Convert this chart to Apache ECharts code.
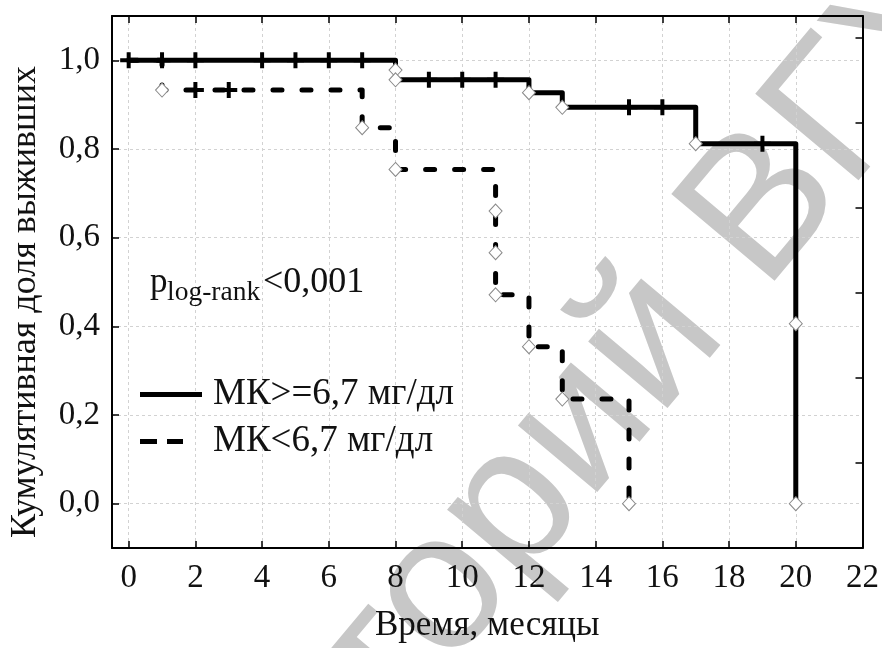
<!DOCTYPE html>
<html><head><meta charset="utf-8">
<script src="https://cdn.jsdelivr.net/npm/echarts@6/dist/echarts.min.js"></script>
<style>html,body{margin:0;padding:0;background:#fff}#c{width:882px;height:648px}</style>
</head><body><div id="c"></div>
<script>
// ---- data ----
const xTicks = [0, 2, 4, 6, 8, 10, 12, 14, 16, 18, 20, 22];
const yTicks = [0, 0.2, 0.4, 0.6, 0.8, 1.0];
const seriesNames = ['МК>=6,7 мг/дл', 'МК<6,7 мг/дл'];
// Kaplan–Meier step curves (time, survival)
const highCurve = [[0, 1], [8, 0.956], [12, 0.927], [13, 0.894], [17, 0.812], [20, 0]];
const highEvents = [[8, 0.978], [8, 0.956], [12, 0.927], [13, 0.894], [17, 0.812], [20, 0.406], [20, 0]];
const highCensored = [[0, 1], [1, 1], [2, 1], [4, 1], [5, 1], [6, 1], [7, 1], [9, 0.956], [10, 0.956], [11, 0.956], [15, 0.894], [16, 0.894], [19, 0.812]];
const lowCurve = [[0, 1], [1, 0.933], [7, 0.848], [8, 0.754], [11, 0.471], [12, 0.354], [13, 0.236], [15, 0]];
const lowEvents = [[1, 0.933], [7, 0.848], [8, 0.754], [11, 0.660], [11, 0.566], [11, 0.471], [12, 0.354], [13, 0.236], [15, 0]];
const lowCensored = [[2, 0.933], [3, 0.933]];
const xName = 'Время, месяцы';
const yName = 'Кумулятивная доля выживших';
const pParts = ['p', 'log-rank', '<0,001'];
const watermark = 'Репозиторий ВГУ';

// ---- chart ----
const SERIF = '"Liberation Serif", "Times New Roman", serif';
const TXT = '#111';
const plusPath = 'path://M6.5,0H10.5V6H17V10H10.5V16H6.5V10H0V6H6.5Z';
const chart = echarts.init(document.getElementById('c'), null, {renderer: 'canvas'});
const gridLine = {show: true, lineStyle: {color: '#d2d2d2', width: 1, type: [3, 3]}};
const axisLine = {show: true, onZero: false, lineStyle: {color: '#000', width: 2}};
const tick = (vals) => ({show: true, inside: true, length: 7, customValues: vals, lineStyle: {color: '#000', width: 1.5}});

chart.setOption({
  backgroundColor: '#fff',
  animation: false,
  grid: {left: 109.5, right: 18.5, top: 16, bottom: 96.5, containLabel: false},
  xAxis: [{
    type: 'value', min: -0.5, max: 22, position: 'bottom',
    axisLine, axisTick: tick(xTicks), splitLine: gridLine,
    axisLabel: {customValues: xTicks, margin: 14, color: TXT, fontFamily: SERIF, fontSize: 33},
    name: xName, nameLocation: 'middle', nameGap: 60,
    nameTextStyle: {color: TXT, fontFamily: SERIF, fontSize: 35}
  }, {
    type: 'value', min: -0.5, max: 22, position: 'top',
    axisLine, axisTick: tick(xTicks), splitLine: {show: false}, axisLabel: {show: false}
  }],
  yAxis: [{
    type: 'value', min: -0.1, max: 1.1, position: 'left',
    axisLine, axisTick: tick(yTicks), splitLine: gridLine,
    axisLabel: {customValues: yTicks, margin: 12, color: TXT, fontFamily: SERIF, fontSize: 33,
      formatter: v => v.toFixed(1).replace('.', ',')},
    name: yName, nameLocation: 'middle', nameGap: 68,
    nameTextStyle: {color: TXT, fontFamily: SERIF, fontSize: 36, padding: [0, 40, 0, 0]}
  }, {
    type: 'value', min: 0, max: 6.25, interval: 1, position: 'right',
    axisLine, axisTick: {show: true, inside: true, length: 7, lineStyle: {color: '#000', width: 1.5}},
    splitLine: {show: false}, axisLabel: {show: false}
  }],
  legend: {
    orient: 'vertical', left: 135, top: 371, itemWidth: 68, itemHeight: 5, itemGap: 10,
    selectedMode: false,
    textStyle: {color: TXT, fontFamily: SERIF, fontSize: 37},
    data: [
      {name: seriesNames[0], icon: 'path://M0,0H62V5H0ZM68,5'},
      {name: seriesNames[1], icon: 'path://M0,0H17V5H0ZM27,0H43V5H27ZM68,5'}
    ]
  },
  graphic: [
    {type: 'text', z: -10, silent: true, x: 446, y: 588, rotation: 50 * Math.PI / 180,
      style: {text: watermark, fill: '#c7c7c7', font: 'normal 196px "Liberation Sans", Arial, sans-serif',
        align: 'center', verticalAlign: 'middle'}},
    {type: 'text', z: 10, x: 150, y: 282.5,
      style: {text: pParts[0], fill: TXT, font: '35px ' + SERIF, align: 'left', verticalAlign: 'middle'}},
    {type: 'text', z: 10, x: 167, y: 293,
      style: {text: pParts[1], fill: TXT, font: '27.5px ' + SERIF, align: 'left', verticalAlign: 'middle'}},
    {type: 'text', z: 10, x: 263, y: 282.5,
      style: {text: pParts[2], fill: TXT, font: '36px ' + SERIF, align: 'left', verticalAlign: 'middle'}}
  ],
  series: [
    {name: seriesNames[1], type: 'line', data: lowCurve, step: 'end', showSymbol: false, z: 2,
      itemStyle: {color: '#000'},
      lineStyle: {color: '#000', width: 5, type: [9, 20], cap: 'round', join: 'round'}},
    {name: seriesNames[0], type: 'line', data: highCurve, step: 'end', showSymbol: false, z: 3,
      itemStyle: {color: '#000'},
      lineStyle: {color: '#000', width: 5, type: 'solid', cap: 'round', join: 'round'}},
    {name: 'censored-low', type: 'scatter', data: lowCensored, symbol: plusPath, symbolSize: [17, 16], z: 4,
      itemStyle: {color: '#000', opacity: 1}},
    {name: 'censored-high', type: 'scatter', data: highCensored, symbol: plusPath, symbolSize: [17, 16], z: 4,
      itemStyle: {color: '#000', opacity: 1}},
    {name: 'events-low', type: 'scatter', data: lowEvents, symbol: 'diamond', symbolSize: [13, 14], z: 5,
      itemStyle: {color: '#fff', borderColor: '#8a8a8a', borderWidth: 1, opacity: 1}},
    {name: 'events-high', type: 'scatter', data: highEvents, symbol: 'diamond', symbolSize: [13, 14], z: 5,
      itemStyle: {color: '#fff', borderColor: '#8a8a8a', borderWidth: 1, opacity: 1}}
  ]
});
</script></body></html>
